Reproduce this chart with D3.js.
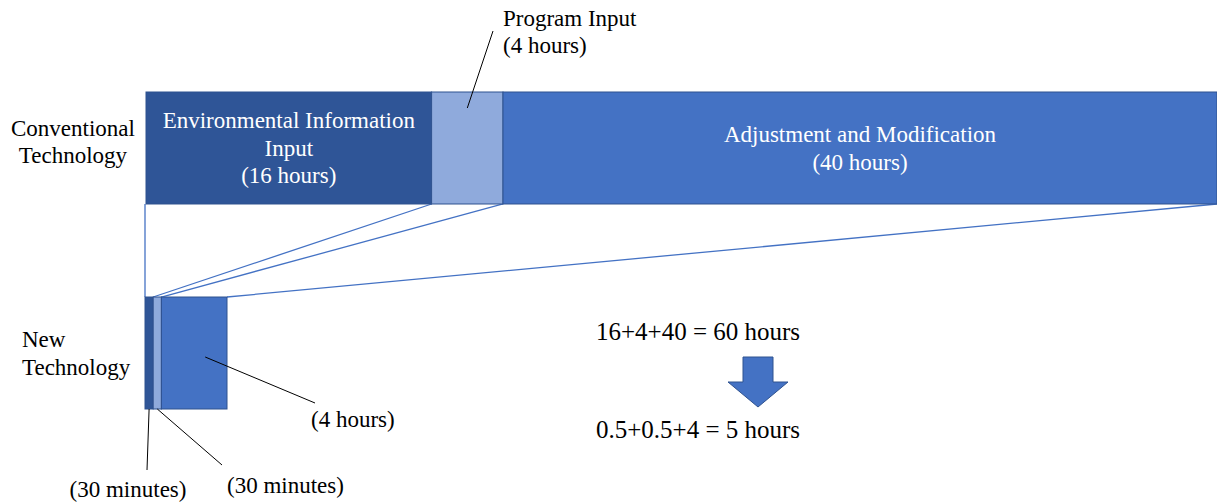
<!DOCTYPE html>
<html>
<head>
<meta charset="utf-8">
<script src="https://cdn.jsdelivr.net/npm/d3@7"></script>
<style>
  body { margin: 0; background: #fff; }
</style>
</head>
<body>
<div id="chart"></div>
<script>
// data
var categories = ["Conventional Technology", "New Technology"];
var stepNames = ["Environmental Information Input", "Program Input", "Adjustment and Modification"];
var convHours = [16, 4, 40];
var newHours = [0.5, 0.5, 4];
var convLabels = [["Environmental Information", "Input", "(16 hours)"], [], ["Adjustment and Modification", "(40 hours)"]];
var newNotes = ["(30 minutes)", "(30 minutes)", "(4 hours)"];
var totals = ["16+4+40 = 60 hours", "0.5+0.5+4 = 5 hours"];
var colors = ["#2f5597", "#8faadc", "#4472c4"];

var width = 1217, height = 504;
var serif = "'Liberation Serif', 'Times New Roman', 'DejaVu Serif', serif";

var svg = d3.select("#chart").append("svg")
    .attr("width", width)
    .attr("height", height)
    .attr("font-family", serif)
    .style("font-family", serif);

var y = d3.scaleBand().domain(categories).range([92, 409]).paddingInner(0.4537);
var xConv = d3.scaleLinear().domain([0, d3.sum(convHours)]).range([146, 1217]);
var xNew = d3.scaleLinear().domain([0, d3.sum(newHours)]).range([145, 227]);

function stack(vals) {
    var acc = 0;
    return vals.map(function (v, i) {
        var d = { i: i, x0: acc, x1: acc + v, v: v };
        acc += v;
        return d;
    });
}
var convSegs = stack(convHours);
var newSegs = stack(newHours);

var yTop = y(categories[0]), yBot = y(categories[1]), bw = y.bandwidth();

// zoom lines between the two bars (drawn first)
var links = [[0, 0]].concat(convSegs.map(function (d) { return [d.x1, newSegs[d.i].x1]; }));
svg.append("g").selectAll("line")
    .data(links)
    .enter().append("line")
    .attr("x1", function (d, i) { return i === 0 ? xNew(0) : xConv(d[0]); })
    .attr("y1", yTop + bw)
    .attr("x2", function (d) { return xNew(d[1]); })
    .attr("y2", yBot)
    .attr("stroke", "#4472c4")
    .attr("stroke-width", 1.3);

// conventional bar
var gTop = svg.append("g");
gTop.selectAll("rect")
    .data(convSegs)
    .enter().append("rect")
    .attr("x", function (d) { return xConv(d.x0); })
    .attr("y", yTop)
    .attr("width", function (d) { return xConv(d.x1) - xConv(d.x0); })
    .attr("height", bw)
    .attr("fill", function (d) { return colors[d.i]; })
    .attr("stroke", "#2f528f")
    .attr("stroke-width", 1);

gTop.selectAll("text.seg")
    .data(convSegs)
    .enter().append("text")
    .attr("class", "seg")
    .attr("text-anchor", "middle")
    .attr("fill", "#fff")
    .style("font-size", "23px")
    .each(function (d) {
        var lines = convLabels[d.i];
        var cx = (xConv(d.x0) + xConv(d.x1)) / 2;
        var y0 = yTop + bw / 2 - (lines.length - 1) * 27.5 / 2 + 8;
        d3.select(this).selectAll("tspan")
            .data(lines)
            .enter().append("tspan")
            .attr("x", cx)
            .attr("y", function (t, k) { return y0 + k * 27.5; })
            .text(function (t) { return t; });
    });

// new bar
svg.append("g").selectAll("rect")
    .data(newSegs)
    .enter().append("rect")
    .attr("x", function (d) { return xNew(d.x0); })
    .attr("y", yBot)
    .attr("width", function (d) { return xNew(d.x1) - xNew(d.x0); })
    .attr("height", bw)
    .attr("fill", function (d) { return colors[d.i]; })
    .attr("stroke", "#2f528f")
    .attr("stroke-width", 1);

// category labels
svg.append("text")
    .attr("text-anchor", "middle")
    .style("font-size", "23px")
    .selectAll("tspan")
    .data(["Conventional", "Technology"])
    .enter().append("tspan")
    .attr("x", 73)
    .attr("y", function (d, i) { return 136 + i * 27; })
    .text(function (d) { return d; });

svg.append("text")
    .attr("text-anchor", "start")
    .style("font-size", "23px")
    .selectAll("tspan")
    .data(["New", "Technology"])
    .enter().append("tspan")
    .attr("x", 22)
    .attr("y", function (d, i) { return 347 + i * 28; })
    .text(function (d) { return d; });

// callouts
var callouts = [
    // program input (top bar, light segment)
    { x1: (xConv(convSegs[1].x0) + xConv(convSegs[1].x1)) / 2, y1: yTop + 16, x2: 493, y2: 31,
      text: ["Program Input", "(4 hours)"], tx: 503, ty: 26, anchor: "start" },
    { x1: (xNew(newSegs[0].x0) + xNew(newSegs[0].x1)) / 2, y1: yBot + bw, x2: 147, y2: 470,
      text: [newNotes[0]], tx: 128, ty: 497, anchor: "middle" },
    { x1: (xNew(newSegs[1].x0) + xNew(newSegs[1].x1)) / 2, y1: yBot + bw, x2: 222, y2: 465,
      text: [newNotes[1]], tx: 227, ty: 493, anchor: "start" },
    { x1: (xNew(newSegs[2].x0) + xNew(newSegs[2].x1)) / 2 + 11, y1: yBot + 60, x2: 315, y2: 403,
      text: [newNotes[2]], tx: 311, ty: 427, anchor: "start" }
];

var gc = svg.append("g");
gc.selectAll("line")
    .data(callouts)
    .enter().append("line")
    .attr("x1", function (d) { return d.x1; })
    .attr("y1", function (d) { return d.y1; })
    .attr("x2", function (d) { return d.x2; })
    .attr("y2", function (d) { return d.y2; })
    .attr("stroke", "#000")
    .attr("stroke-width", 1);

gc.selectAll("text")
    .data(callouts)
    .enter().append("text")
    .attr("text-anchor", function (d) { return d.anchor; })
    .style("font-size", "23px")
    .each(function (d) {
        d3.select(this).selectAll("tspan")
            .data(d.text)
            .enter().append("tspan")
            .attr("x", d.tx)
            .attr("y", function (t, k) { return d.ty + k * 27; })
            .text(function (t) { return t; });
    });

// totals and arrow
svg.selectAll("text.total")
    .data(totals)
    .enter().append("text")
    .attr("class", "total")
    .attr("x", 698)
    .attr("y", function (d, i) { return i === 0 ? 340 : 438; })
    .attr("text-anchor", "middle")
    .style("font-size", "25px")
    .text(function (d) { return d; });

var arrow = [[743, 357], [773, 357], [773, 382], [788, 382], [758, 407], [728, 382], [743, 382]];
svg.append("path")
    .attr("d", d3.line()(arrow) + "Z")
    .attr("fill", "#4472c4")
    .attr("stroke", "#2f528f")
    .attr("stroke-width", 1);
</script>
</body>
</html>
